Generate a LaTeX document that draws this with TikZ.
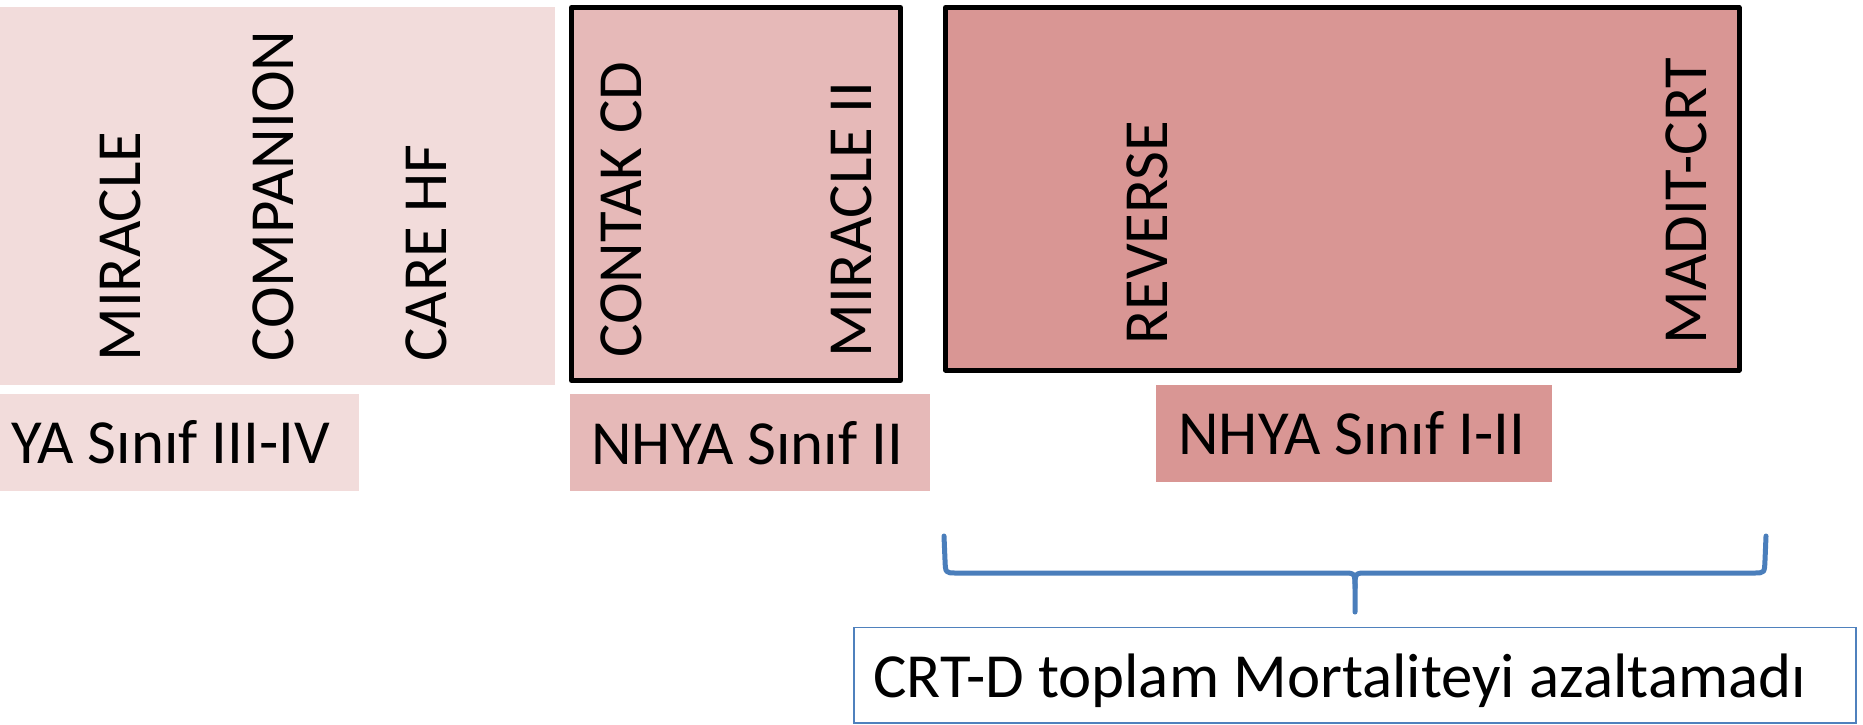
\documentclass[tikz,border=0pt]{standalone}
\usepackage{fontspec}
\setmainfont{Carlito}
\usetikzlibrary{fit}

\definecolor{tintlight}{HTML}{F2DCDB}
\definecolor{tintmid}{HTML}{E6B9B8}
\definecolor{tintdark}{HTML}{D99694}
\definecolor{braceblue}{HTML}{4A7EBB}
\definecolor{frameblue}{HTML}{4F81BD}

\tikzset{
  panel/.style={inner sep=0pt, outer sep=0pt, draw=none},
  framed/.style={panel, draw=black, line width=2.5pt, line join=round},
  trial/.style={rotate=90, anchor=base west, inner sep=0pt,
    font=\fontsize{31.4pt}{37pt}\selectfont},
  caption/.style={anchor=base west, inner sep=0pt,
    font=\fontsize{31.4pt}{37pt}\selectfont},
  bracestroke/.style={draw=braceblue, line width=2.5pt, line cap=round, line join=round},
}

\begin{document}
\begin{tikzpicture}[x=0.5pt, y=-0.5pt]
  \useasboundingbox (0,0) rectangle (1863,724);

  % trial groups
  \node[panel, fill=tintlight, fit={(0,7) (555,385)}] (grpA) {};
  \node[framed, fill=tintmid, fit={(571.5,7.5) (900.5,380.5)}] (grpB) {};
  \node[framed, fill=tintdark, fit={(945.5,7.5) (1739,370)}] (grpC) {};

  % class labels
  \node[panel, fill=tintlight, fit={(0,394) (359,491)}] (clsA) {};
  \node[panel, fill=tintmid, fit={(570,394) (930,491)}] (clsB) {};
  \node[panel, fill=tintdark, fit={(1156,385) (1552,482)}] (clsC) {};

  % trial names
  \node[trial] (miracle)   at (140,362) {MIRACLE};
  \node[trial] (companion) at (293,362) {COMPANION};
  \node[trial] (carehf)    at (446,362) {CARE HF};
  \node[trial] (contak)    at (641,358) {CONTAK CD};
  \node[trial] (miracleii) at (871,358) {MIRACLE II};
  \node[trial] (reverse)   at (1167,345) {REVERSE};
  \node[trial] (madit)     at (1706,345) {MADIT-CRT};

  \node[caption] (txtA) at (11,463) {YA Sınıf III-IV};
  \node[caption] (txtB) at (591,464) {NHYA Sınıf II};
  \node[caption] (txtC) at (1178,454) {NHYA Sınıf I-II};

  % conclusion
  \node[panel, draw=frameblue, line width=0.75pt, fill=white,
        fit={(854,627.5) (1856,723)}] (result) {};
  \node[caption] (resulttxt) at (873,697) {CRT-D toplam Mortaliteyi azaltamadı};

  % brace spanning the NHYA I-II trials
  \coordinate (bl) at (944,536);
  \coordinate (br) at (1766,536);
  \coordinate (bt) at (1355,612);
  \draw[bracestroke]
    (bl) -- (945,560) .. controls (945.5,573) .. (956,573)
    -- (1343,573) .. controls (1355,573) .. (1355,588) -- (bt);
  \draw[bracestroke]
    (br) -- (1765,560) .. controls (1764.5,573) .. (1754,573)
    -- (1367,573) .. controls (1355,573) .. (1355,588);
\end{tikzpicture}
\end{document}
